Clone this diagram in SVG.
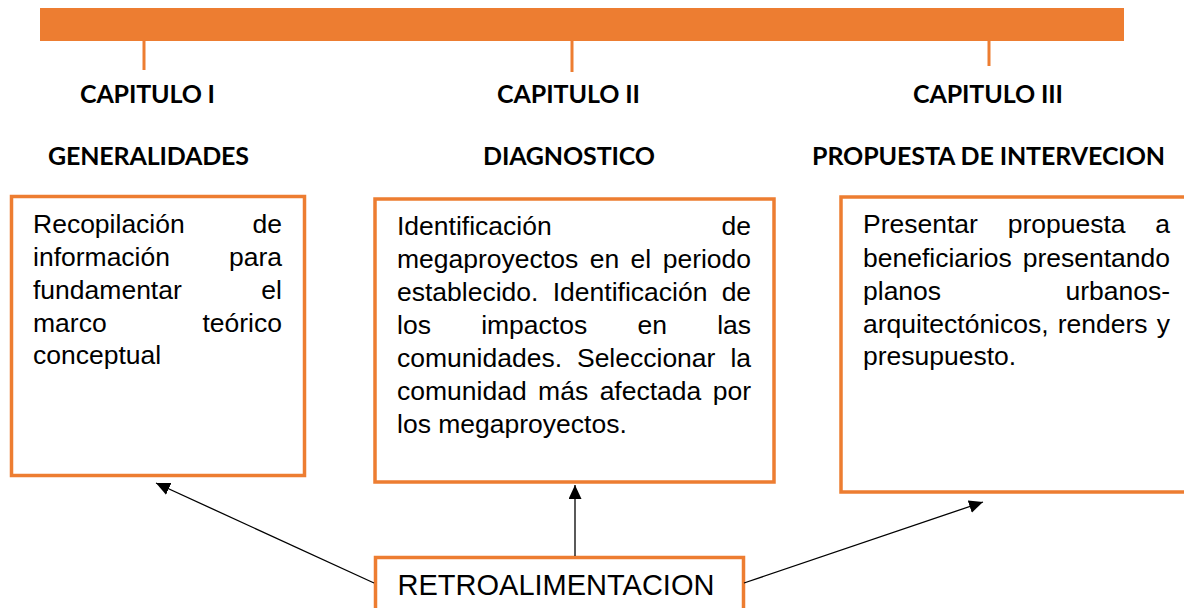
<svg xmlns="http://www.w3.org/2000/svg" width="1184" height="608" viewBox="0 0 1184 608">
<style>
.hd{font-family:Lato,"Open Sans",sans-serif;font-weight:bold;font-size:25px;fill:#000;text-anchor:middle}
.bx{fill:#fff;stroke:#ED7D31;stroke-width:3.5}
.tx{font-family:"Liberation Sans",Arial,sans-serif;font-size:26.5px;fill:#000}
.r{text-anchor:end}
.tick{stroke:#ED7D31;stroke-width:3}
.con{stroke:#000;stroke-width:1.3;fill:none}
</style>
<defs>
<marker id="ah" markerUnits="userSpaceOnUse" markerWidth="16" markerHeight="14" refX="14" refY="6.5" orient="auto">
<path d="M0,0 L14,6.5 L0,13 Z" fill="#000"/>
</marker>
</defs>
<g id="timeline">
<rect x="40" y="8" width="1084" height="33" fill="#ED7D31"/>
<line class="tick" x1="144" y1="40" x2="144" y2="70"/>
<line class="tick" x1="572" y1="40" x2="572" y2="72"/>
<line class="tick" x1="989" y1="40" x2="989" y2="66"/>
</g>
<g id="cap1">
<text class="hd" x="147.5" y="103" textLength="135">CAPITULO I</text>
<text class="hd" x="148.5" y="165" textLength="201">GENERALIDADES</text>
</g>
<g id="cap2">
<text class="hd" x="568.5" y="103" textLength="143">CAPITULO II</text>
<text class="hd" x="569" y="165" textLength="172">DIAGNOSTICO</text>
</g>
<g id="cap3">
<text class="hd" x="988" y="103" textLength="150">CAPITULO III</text>
<text class="hd" x="988.5" y="165" textLength="353">PROPUESTA DE INTERVECION</text>
</g>
<g id="box1">
<rect class="bx" x="11.5" y="196.5" width="293" height="279"/>
<text class="tx" x="33" y="233">Recopilación</text><text class="tx r" x="282" y="233">de</text>
<text class="tx" x="33" y="266">información</text><text class="tx r" x="282" y="266">para</text>
<text class="tx" x="33" y="299">fundamentar</text><text class="tx r" x="282" y="299">el</text>
<text class="tx" x="33" y="332">marco</text><text class="tx r" x="282" y="332">teórico</text>
<text class="tx" x="33" y="364">conceptual</text>
</g>
<g id="box2">
<rect class="bx" x="375" y="199" width="399" height="283" stroke-width="4"/>
<text class="tx" x="397" y="235">Identificación</text><text class="tx r" x="751" y="235">de</text>
<text class="tx" x="397" y="268" word-spacing="4.1">megaproyectos en el periodo</text>
<text class="tx" x="397" y="301" word-spacing="6.9">establecido. Identificación de</text>
<text class="tx" x="397" y="334" word-spacing="42.9">los impactos en las</text>
<text class="tx" x="397" y="367" word-spacing="7.6">comunidades. Seleccionar la</text>
<text class="tx" x="397" y="400" word-spacing="4.1">comunidad más afectada por</text>
<text class="tx" x="397" y="433">los megaproyectos.</text>
</g>
<g id="box3">
<rect class="bx" x="841" y="197" width="350" height="295" stroke-width="4"/>
<text class="tx" x="863" y="233" word-spacing="22.4">Presentar propuesta a</text>
<text class="tx" x="863" y="267">beneficiarios</text><text class="tx r" x="1170" y="267">presentando</text>
<text class="tx" x="863" y="300">planos</text><text class="tx r" x="1170" y="300">urbanos-</text>
<text class="tx" x="863" y="333" word-spacing="1.8">arquitectónicos, renders y</text>
<text class="tx" x="863" y="365">presupuesto.</text>
</g>
<g id="retro">
<rect class="bx" x="375.5" y="557.5" width="368" height="60" stroke-width="3"/>
<text x="556" y="595" font-family="Liberation Sans,Arial,sans-serif" font-size="29" text-anchor="middle">RETROALIMENTACION</text>
</g>
<g id="connectors">
<line class="con" x1="374" y1="583" x2="156" y2="483" marker-end="url(#ah)"/>
<line class="con" x1="575" y1="556" x2="575" y2="485" marker-end="url(#ah)"/>
<line class="con" x1="744" y1="583" x2="983" y2="502" marker-end="url(#ah)"/>
</g>
</svg>
